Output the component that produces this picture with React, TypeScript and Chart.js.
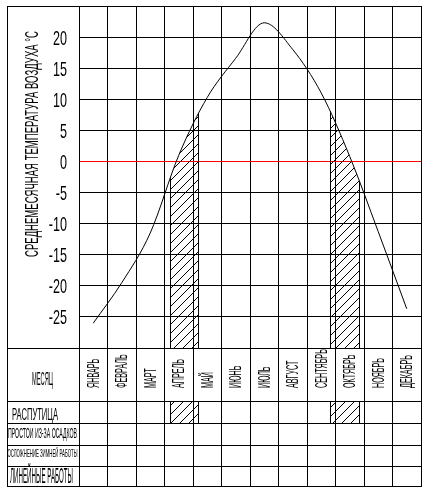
import React, { useEffect, useRef } from 'react';
import { Chart, registerables } from 'chart.js';

Chart.register(...registerables);

const months = ['ЯНВАРЬ', 'ФЕВРАЛЬ', 'МАРТ', 'АПРЕЛЬ', 'МАЙ', 'ИЮНЬ', 'ИЮЛЬ', 'АВГУСТ', 'СЕНТЯБРЬ', 'ОКТЯБРЬ', 'НОЯБРЬ', 'ДЕКАБРЬ'];
const temperatures = [-26, -19.5, -11.5, 1, 10.3, 16.6, 22.3, 18, 11, 0.8, -11.3, -23.7];
const yTickLabels = [20, 15, 10, 5, 0, -5, -10, -15, -20, -25];
const yAxisTitle = 'СРЕДНЕМЕСЯЧНАЯ ТЕМПЕРАТУРА ВОЗДУХА °С';
const rowLabels = ['МЕСЯЦ', 'РАСПУТИЦА', 'ПРОСТОИ ИЗ-ЗА ОСАДКОВ', 'ОСЛОЖНЕНИЕ ЗИМНЕЙ РАБОТЫ', 'ЛИНЕЙНЫЕ РАБОТЫ'];
// rasputitsa (mud season) periods, in months counted from the start of the year
const rasputitsaPeriods = [[3.18, 4.16], [8.81, 9.82]];

function makeHatch(ctx: CanvasRenderingContext2D) {
  const s = 9;
  const c = document.createElement('canvas');
  c.width = s;
  c.height = s;
  const g = c.getContext('2d')!;
  g.strokeStyle = '#000';
  g.lineWidth = 1;
  g.beginPath();
  g.moveTo(0, s);
  g.lineTo(s, 0);
  g.moveTo(-2, 2);
  g.lineTo(2, -2);
  g.moveTo(s - 2, s + 2);
  g.lineTo(s + 2, s - 2);
  g.stroke();
  return ctx.createPattern(c, 'repeat')!;
}

function drawFit(ctx: CanvasRenderingContext2D, text: string, cx: number, cy: number, w: number, capH: number, rotate = false) {
  const size = capH / 0.72;
  ctx.save();
  ctx.font = `${size}px 'Liberation Sans', sans-serif`;
  const tw = ctx.measureText(text).width;
  ctx.translate(cx, cy);
  if (rotate) ctx.rotate(-Math.PI / 2);
  ctx.scale(w / tw, 1);
  ctx.textAlign = 'center';
  ctx.textBaseline = 'alphabetic';
  ctx.fillStyle = '#000';
  ctx.fillText(text, 0, capH / 2);
  ctx.restore();
}

const tablePlugin = {
  id: 'tablePlugin',
  beforeDatasetsDraw(chart: any) {
    const ctx: CanvasRenderingContext2D = chart.ctx;
    const area = chart.chartArea;
    const xs = chart.scales.x;
    const pts: any[] = chart.getDatasetMeta(0).data;
    if (!pts.length) return;
    const pattern = makeHatch(ctx);
    for (const [a, b] of rasputitsaPeriods) {
      const xa = Math.round(xs.getPixelForValue(a - 0.5)) + 0.5;
      const xb = Math.round(xs.getPixelForValue(b - 0.5)) + 0.5;
      ctx.save();
      ctx.beginPath();
      ctx.moveTo(pts[0].x, pts[0].y);
      for (let i = 1; i < pts.length; i++) {
        const p = pts[i - 1];
        const q = pts[i];
        ctx.bezierCurveTo(p.cp2x, p.cp2y, q.cp1x, q.cp1y, q.x, q.y);
      }
      ctx.lineTo(pts[pts.length - 1].x, area.bottom);
      ctx.lineTo(pts[0].x, area.bottom);
      ctx.closePath();
      ctx.clip();
      ctx.fillStyle = pattern;
      ctx.fillRect(xa, area.top, xb - xa, area.bottom - area.top);
      ctx.strokeStyle = '#000';
      ctx.lineWidth = 1;
      ctx.strokeRect(xa, area.top - 5, xb - xa, area.bottom - area.top + 10);
      ctx.restore();
    }
  },
  afterDraw(chart: any) {
    const ctx: CanvasRenderingContext2D = chart.ctx;
    const area = chart.chartArea;
    const xs = chart.scales.x;
    const ys = chart.scales.y;
    const L = 7.5;
    const R = Math.round(area.right) + 0.5;
    const T = 6.5;
    const B = 486.5;
    const rowY = [area.bottom, 401, 423, 445, 466, 487];
    ctx.save();
    ctx.strokeStyle = '#000';
    ctx.lineWidth = 1;
    // outer frame
    ctx.strokeRect(L, T, R - L, B - T);
    // table rows
    ctx.beginPath();
    for (let i = 0; i < rowY.length - 1; i++) {
      const y = Math.round(rowY[i]) + 0.5;
      ctx.moveTo(L, y);
      ctx.lineTo(R, y);
    }
    ctx.stroke();
    // hatched cells in the rasputitsa row
    const pattern = makeHatch(ctx);
    for (const [a, b] of rasputitsaPeriods) {
      const xa = Math.round(xs.getPixelForValue(a - 0.5)) + 0.5;
      const xb = Math.round(xs.getPixelForValue(b - 0.5)) + 0.5;
      const y0 = rowY[1] + 0.5;
      const y1 = rowY[2] + 0.5;
      ctx.fillStyle = pattern;
      ctx.fillRect(xa, y0, xb - xa, y1 - y0);
      ctx.strokeRect(xa, y0, xb - xa, y1 - y0);
    }
    ctx.restore();

    // y tick labels (condensed), placed by the y scale
    ctx.save();
    ctx.fillStyle = '#000';
    ctx.font = `21px 'Liberation Sans', sans-serif`;
    for (const t of ys.ticks) {
      if (!yTickLabels.includes(t.value)) continue;
      const y = ys.getPixelForValue(t.value);
      ctx.save();
      ctx.translate(67, y);
      ctx.scale(0.6, 1);
      ctx.textAlign = 'right';
      ctx.textBaseline = 'alphabetic';
      ctx.fillText(String(t.value), 0, 7.5);
      ctx.restore();
    }
    ctx.restore();

    // month labels, rotated, reading bottom-to-top
    ctx.save();
    ctx.fillStyle = '#000';
    ctx.font = `16px 'Liberation Sans', sans-serif`;
    months.forEach((m, i) => {
      const cx = xs.getPixelForValue(i);
      ctx.save();
      ctx.translate(cx + 5.5, 388);
      ctx.rotate(-Math.PI / 2);
      ctx.scale(0.45, 1);
      ctx.textAlign = 'left';
      ctx.textBaseline = 'alphabetic';
      ctx.fillText(m, 0, 0);
      ctx.restore();
    });
    ctx.restore();

    // row labels
    const rl = [
      { cx: 42.5, cy: 378.5, w: 21, h: 13 },
      { cx: 35, cy: 414, w: 46, h: 12 },
      { cx: 42.5, cy: 433, w: 69, h: 10 },
      { cx: 42.5, cy: 452.5, w: 70, h: 8 },
      { cx: 41.5, cy: 475, w: 63, h: 16 },
    ];
    rowLabels.forEach((t, i) => drawFit(ctx, t, rl[i].cx, rl[i].cy, rl[i].w, rl[i].h));

    // y axis title
    drawFit(ctx, yAxisTitle, 31.5, 144, 226, 13, true);
  },
};

export default function App() {
  const ref = useRef<HTMLCanvasElement>(null);
  useEffect(() => {
    const chart = new Chart(ref.current!, {
      type: 'line',
      data: {
        labels: months,
        datasets: [
          {
            data: temperatures,
            borderColor: '#000',
            borderWidth: 1,
            pointRadius: 0,
            cubicInterpolationMode: 'monotone',
            fill: false,
          },
        ],
      },
      options: {
        responsive: false,
        animation: false,
        layout: { padding: { left: 8, top: 6, right: 6, bottom: 6 } },
        plugins: { legend: { display: false }, tooltip: { enabled: false } },
        scales: {
          x: {
            type: 'category',
            offset: true,
            grid: { offset: true, color: '#000', lineWidth: 1, drawTicks: true, tickLength: 139, tickColor: '#000' },
            border: { color: '#000' },
            ticks: { display: false },
            afterFit: (s: any) => {
              s.height = 139;
              s.paddingLeft = 0;
              s.paddingRight = 0;
            },
          },
          y: {
            min: -30,
            max: 25,
            ticks: { stepSize: 5, display: false },
            grid: {
              drawTicks: false,
              lineWidth: 1,
              color: (c: any) => (c.tick && c.tick.value === 0 ? '#ff0000' : '#000'),
            },
            border: { color: '#000' },
            afterFit: (s: any) => {
              s.width = 71;
              s.paddingTop = 0;
              s.paddingBottom = 0;
            },
          },
        },
      },
      plugins: [tablePlugin],
    } as any);
    return () => chart.destroy();
  }, []);
  return (
    <div style={{ position: 'fixed', left: 0, top: 0, width: 427, height: 493, background: '#fff' }}>
      <canvas ref={ref} width={427} height={493} style={{ display: 'block', width: 427, height: 493 }} />
    </div>
  );
}
